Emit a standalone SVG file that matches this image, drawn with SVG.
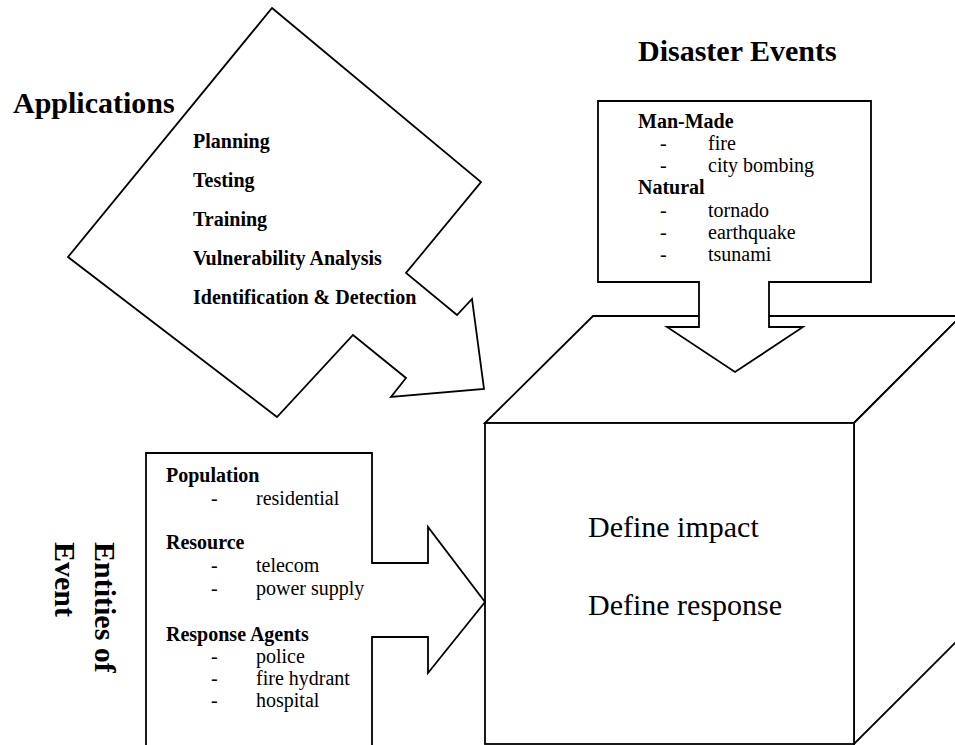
<svg xmlns="http://www.w3.org/2000/svg" width="955" height="745" viewBox="0 0 955 745">
<style>
.shape{fill:#fff;stroke:#000;stroke-width:1.8;stroke-linejoin:miter}
text{font-family:"Liberation Serif","Times New Roman",serif;fill:#000}
.title{font-size:30px;font-weight:bold}
.hd{font-size:20px;font-weight:bold}
.it{font-size:20px}
.big{font-size:30px}
</style>
<rect width="955" height="745" fill="#fff"/>
<g id="cube">
<polygon class="shape" points="485,423 593,316 961,316 854,423"/>
<polygon class="shape" points="854,423 961,316 961,637 854,744"/>
<rect class="shape" x="485" y="423" width="369" height="321"/>
<text class="big" x="588" y="537">Define impact</text>
<text class="big" x="588" y="615">Define response</text>
</g>
<g id="connectors">
<polygon id="applications-arrow" class="shape" points="272,8 481,182 406,273 457,315 472,299 484,389 391,397 406,378 353,335 277,417 68,257"/>
<polygon id="disaster-arrow" class="shape" points="598,101 871,101 871,282 769,282 769,327 803,327 735,372 667,327 699,327 699,282 598,282"/>
<polygon id="entities-arrow" class="shape" points="146,750 146,453 372,453 372,563 428,563 428,527 485,602 428,673 428,637 372,637 372,750"/>
</g>
<g id="applications">
<text class="title" x="13" y="113">Applications</text>
<text class="hd" x="193" y="148">Planning</text>
<text class="hd" x="193" y="187">Testing</text>
<text class="hd" x="193" y="226">Training</text>
<text class="hd" x="193" y="265">Vulnerability Analysis</text>
<text class="hd" x="193" y="304">Identification &amp; Detection</text>
</g>
<g id="disaster-events">
<text class="title" x="638" y="61">Disaster Events</text>
<text class="hd" x="638" y="128">Man-Made</text>
<text class="it" x="660" y="150">-</text><text class="it" x="708" y="150">fire</text>
<text class="it" x="660" y="172">-</text><text class="it" x="708" y="172">city bombing</text>
<text class="hd" x="638" y="194">Natural</text>
<text class="it" x="660" y="217">-</text><text class="it" x="708" y="217">tornado</text>
<text class="it" x="660" y="239">-</text><text class="it" x="708" y="239">earthquake</text>
<text class="it" x="660" y="261">-</text><text class="it" x="708" y="261">tsunami</text>
</g>
<g id="entities">
<text class="title" transform="translate(95,542) rotate(90)">Entities of</text>
<text class="title" transform="translate(55,542) rotate(90)">Event</text>
<text class="hd" x="166" y="482">Population</text>
<text class="it" x="211" y="505">-</text><text class="it" x="256" y="505">residential</text>
<text class="hd" x="166" y="549">Resource</text>
<text class="it" x="211" y="572">-</text><text class="it" x="256" y="572">telecom</text>
<text class="it" x="211" y="595">-</text><text class="it" x="256" y="595">power supply</text>
<text class="hd" x="166" y="641">Response Agents</text>
<text class="it" x="211" y="663">-</text><text class="it" x="256" y="663">police</text>
<text class="it" x="211" y="685">-</text><text class="it" x="256" y="685">fire hydrant</text>
<text class="it" x="211" y="707">-</text><text class="it" x="256" y="707">hospital</text>
</g>
</svg>
